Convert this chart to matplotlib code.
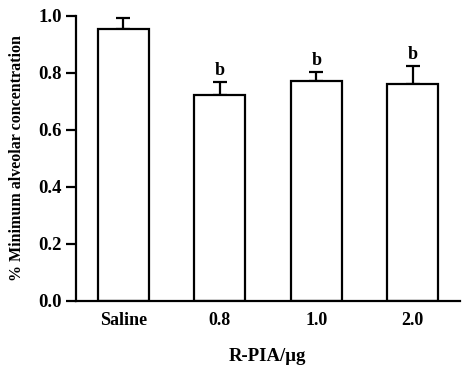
import matplotlib.pyplot as plt

groups = ["Saline", "0.8", "1.0", "2.0"]
mac = [0.952, 0.722, 0.770, 0.761]
sem = [0.039, 0.045, 0.032, 0.064]
marks = ["", "b", "b", "b"]

plt.rcParams['font.family'] = ['Liberation Serif', 'DejaVu Serif']
plt.rcParams['font.weight'] = 'bold'

fig = plt.figure(figsize=(4.63, 3.67), dpi=100)
ax = fig.add_axes([0.164, 0.180, 0.829, 0.777])

x = range(len(groups))
ax.bar(x, mac, width=0.53, color='white', edgecolor='black', linewidth=1.6, zorder=2)
ax.errorbar(x, mac, yerr=[[0]*len(sem), sem], fmt='none', ecolor='black',
            elinewidth=1.6, capsize=5, capthick=1.6, zorder=1)
for i, (m, s, t) in enumerate(zip(mac, sem, marks)):
    if t:
        ax.text(i, m + s + 0.01, t, ha='center', va='bottom', fontsize=13, fontweight='bold')

ax.set_xlim(-0.492, 3.487)
ax.set_ylim(0, 1.0)
ax.set_yticks([0.0, 0.2, 0.4, 0.6, 0.8, 1.0])
ax.set_yticklabels(["0.0", "0.2", "0.4", "0.6", "0.8", "1.0"])
ax.set_xticks(list(x))
ax.set_xticklabels(groups)
ax.tick_params(axis='y', length=7, width=1.6, labelsize=13.5, pad=3)
ax.tick_params(axis='x', length=0, labelsize=13, pad=8)
for lab in ax.get_xticklabels() + ax.get_yticklabels():
    lab.set_fontweight('bold')
ax.spines['top'].set_visible(False)
ax.spines['right'].set_visible(False)
ax.spines['left'].set_linewidth(1.6)
ax.spines['bottom'].set_linewidth(1.6)
ax.set_ylabel("% Minimum alveolar concentration", fontsize=11.5, fontweight='bold', labelpad=10)
ax.set_xlabel("R-PIA/μg", fontsize=13.5, fontweight='bold', labelpad=14)

fig.savefig('out.png', dpi=100)
